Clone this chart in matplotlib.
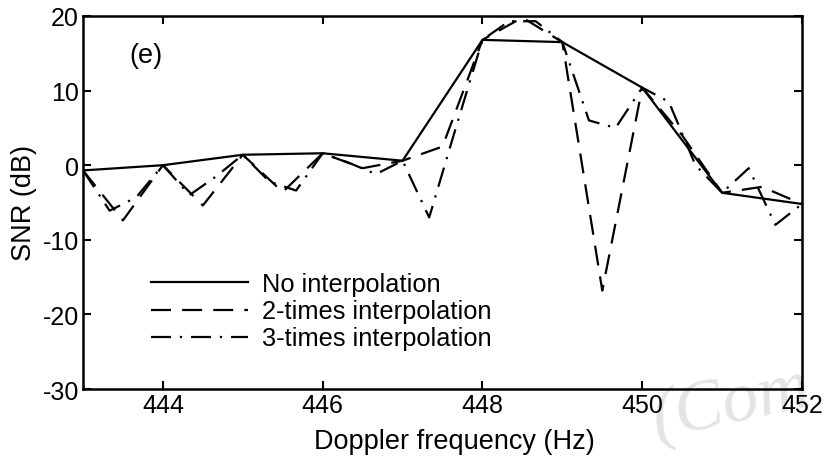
import numpy as np
import matplotlib
matplotlib.use("Agg")
import matplotlib.pyplot as plt

# ---- data ----
x_no = [443, 444, 445, 446, 447, 448, 449, 450, 451, 452]
snr_no = [-0.7, 0.0, 1.4, 1.6, 0.6, 16.8, 16.5, 10.4, -3.7, -5.2]

x_2 = [443, 443.5, 444, 444.5, 445, 445.5, 446, 446.5, 447, 447.5,
       448, 448.5, 449, 449.5, 450, 450.5, 451, 451.5, 452]
snr_2 = [-0.7, -7.4, 0.0, -5.4, 1.4, -3.6, 1.6, -0.4, 0.6, 2.5,
         16.8, 19.8, 16.5, -16.8, 10.4, 4.0, -3.7, -2.9, -5.2]

x_3 = [443, 443 + 1/3, 443 + 2/3, 444, 444 + 1/3, 444 + 2/3, 445, 445 + 1/3, 445 + 2/3,
       446, 446 + 1/3, 446 + 2/3, 447, 447 + 1/3, 447 + 2/3, 448, 448 + 1/3, 448 + 2/3,
       449, 449 + 1/3, 449 + 2/3, 450, 450 + 1/3, 450 + 2/3, 451, 451 + 1/3, 451 + 2/3, 452]
snr_3 = [-0.7, -6.1, -4.3, 0.0, -4.0, -1.5, 1.4, -2.2, -3.4,
         1.6, 0.3, -1.2, 0.6, -7.0, 5.0, 16.8, 19.3, 19.3,
         16.5, 6.0, 5.0, 10.4, 8.5, 0.0, -3.7, -0.4, -8.0, -5.2]

labels = ["No interpolation", "2-times interpolation", "3-times interpolation"]
xticks = [444, 446, 448, 450, 452]
yticks = [-30, -20, -10, 0, 10, 20]

plt.rcParams['font.family'] = ['Liberation Sans', 'DejaVu Sans']
plt.rcParams['axes.unicode_minus'] = False

fs_tick = 18
fs_leg = 18.3
fs_lab = 19.5
fig = plt.figure(figsize=(8.25, 4.6), dpi=100)
ax = fig.add_axes([83/825, 70/460, (802-83)/825, (390-17)/460])
ax.patch.set_alpha(0)

lw = 1.6
ax.plot(x_no, snr_no, color='black', lw=lw, linestyle='-', label=labels[0])
ax.plot(x_2, snr_2, color='black', lw=lw, linestyle=(0, (9, 5)), label=labels[1])
ax.plot(x_3, snr_3, color='black', lw=lw, linestyle=(0, (9, 4, 1, 4)), label=labels[2])

ax.set_xlim(443, 452)
ax.set_ylim(-30, 20)
ax.set_xticks(xticks)
ax.set_yticks(yticks)
ax.tick_params(direction='in', length=6, width=1.5, labelsize=fs_tick,
               top=True, right=True, pad=3)
for s in ax.spines.values():
    s.set_linewidth(1.8)

ax.set_xlabel("Doppler frequency (Hz)", fontsize=fs_lab)
ax.xaxis.set_label_coords(0.516, -0.105)
ax.set_ylabel("SNR (dB)", fontsize=fs_lab)
ax.yaxis.set_label_coords(-0.064, 0.5)
ax.text(0.065, 0.895, "(e)", transform=ax.transAxes, fontsize=fs_lab, va='center')

leg = ax.legend(loc='lower left', bbox_to_anchor=(0.081, 0.076), frameon=False,
                fontsize=fs_leg, handlelength=3.8, handletextpad=0.55,
                labelspacing=0.12, borderaxespad=0)

fig.text(0.99, 0.12, "(Com", fontsize=52, family='Liberation Serif', style='italic',
         color='#e4e4e4', rotation=12, ha='right', va='center', zorder=-1)

fig.savefig("out.png", dpi=100)
